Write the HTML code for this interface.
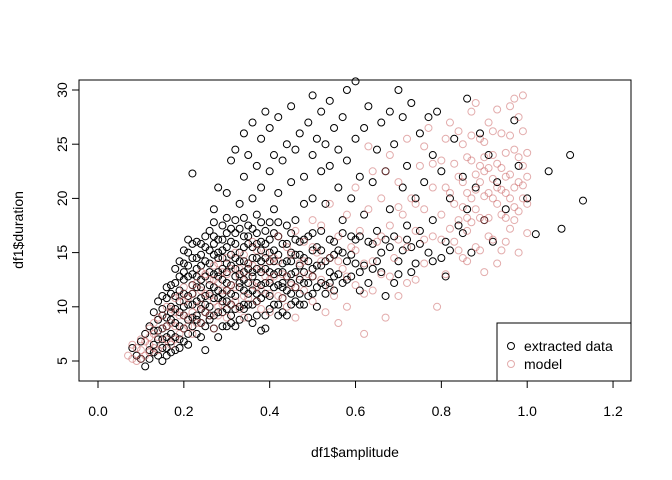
<!DOCTYPE html>
<html><head><meta charset="utf-8"><style>
html,body{margin:0;padding:0;background:#fff;}
svg{display:block;font-family:"Liberation Sans",Arial,sans-serif;}
</style></head><body>
<svg id="chart" width="672" height="480" viewBox="0 0 672 480">
<rect x="79" y="80" width="552" height="301" fill="none" stroke="#000"/>
<g id="xaxis"></g>
<g id="yaxis"></g>
<g id="ptsBlack"></g>
<g id="ptsModel"></g>
<text x="355" y="457" font-size="14" text-anchor="middle">df1$amplitude</text>
<text x="0" y="0" font-size="14" text-anchor="middle" transform="translate(23,230) rotate(-90)">df1$duration</text>
<g>
<rect x="497" y="323" width="134" height="58" fill="#fff" stroke="#000"/>
<circle cx="511" cy="346" r="3.5" fill="none" stroke="#000"/>
<text x="524" y="351" font-size="14">extracted data</text>
<circle cx="511" cy="364" r="3.5" fill="none" stroke="rgba(200,90,90,0.5)"/>
<text x="524" y="369" font-size="14">model</text>
</g>
</svg>
<script>
const xTicks=[0,0.2,0.4,0.6,0.8,1.0,1.2];
const xTickLabels=["0.0","0.2","0.4","0.6","0.8","1.0","1.2"];
const yTicks=[5,10,15,20,25,30];
const yTickLabels=["5","10","15","20","25","30"];
const extractedData=[[0.08,6.2],[0.09,5.5],[0.10,6.8],[0.10,5.2],[0.11,7.5],[0.11,4.5],[0.12,6.0],[0.12,8.2],[0.13,9.5],[0.13,5.8],[0.14,7.0],[0.14,10.5],[0.15,8.0],[0.15,6.2],[0.15,11.0],[0.16,9.0],[0.16,5.5],[0.17,7.5],[0.17,12.0],[0.17,10.0],[0.18,8.5],[0.18,6.0],[0.18,13.5],[0.19,9.5],[0.19,11.5],[0.19,7.0],[0.20,12.5],[0.20,10.0],[0.20,14.0],[0.20,8.0],[0.21,6.5],[0.21,11.0],[0.21,15.0],[0.22,13.0],[0.22,9.0],[0.22,12.0],[0.22,22.3],[0.23,7.5],[0.23,14.5],[0.23,10.5],[0.23,16.0],[0.24,12.5],[0.24,8.5],[0.24,13.8],[0.25,11.0],[0.25,15.5],[0.25,9.5],[0.25,6.0],[0.26,14.0],[0.26,12.0],[0.26,17.0],[0.26,10.0],[0.27,16.5],[0.27,13.0],[0.27,8.0],[0.27,19.0],[0.28,15.0],[0.28,11.5],[0.28,14.5],[0.28,21.0],[0.29,12.5],[0.29,9.5],[0.29,17.5],[0.29,13.5],[0.30,15.5],[0.30,10.5],[0.30,20.5],[0.30,14.0],[0.31,16.0],[0.31,12.0],[0.31,8.5],[0.31,23.5],[0.32,14.5],[0.32,18.0],[0.32,11.0],[0.32,24.5],[0.33,15.0],[0.33,13.0],[0.33,19.5],[0.33,10.0],[0.34,16.5],[0.34,12.5],[0.34,22.0],[0.34,26.0],[0.35,14.0],[0.35,17.5],[0.35,9.0],[0.35,24.0],[0.36,15.5],[0.36,11.5],[0.36,20.0],[0.36,27.0],[0.37,13.5],[0.37,18.5],[0.37,23.0],[0.37,10.5],[0.38,16.0],[0.38,25.5],[0.38,12.0],[0.38,21.0],[0.39,14.5],[0.39,28.0],[0.39,17.0],[0.39,8.0],[0.40,15.0],[0.40,22.5],[0.40,11.0],[0.40,26.5],[0.41,13.0],[0.41,19.0],[0.41,24.0],[0.42,16.5],[0.42,12.0],[0.42,27.5],[0.42,20.5],[0.43,14.0],[0.43,23.5],[0.43,9.5],[0.44,17.5],[0.44,25.0],[0.44,11.5],[0.45,15.0],[0.45,21.5],[0.45,28.5],[0.45,13.0],[0.46,18.0],[0.46,24.5],[0.46,10.5],[0.47,16.0],[0.47,26.0],[0.47,12.5],[0.48,22.0],[0.48,14.5],[0.48,19.5],[0.49,27.0],[0.49,11.0],[0.49,16.5],[0.50,24.0],[0.50,29.5],[0.50,13.5],[0.50,20.0],[0.51,25.5],[0.51,15.5],[0.51,10.0],[0.52,22.5],[0.52,28.0],[0.52,17.0],[0.53,25.0],[0.53,12.0],[0.53,19.5],[0.54,23.0],[0.54,14.5],[0.54,29.0],[0.55,26.5],[0.55,16.0],[0.55,11.5],[0.56,21.0],[0.56,24.5],[0.56,13.0],[0.57,18.0],[0.57,27.5],[0.57,15.0],[0.58,23.5],[0.58,12.5],[0.58,30.0],[0.59,20.0],[0.59,16.5],[0.60,25.5],[0.60,14.0],[0.60,30.8],[0.61,22.0],[0.61,11.5],[0.62,18.5],[0.62,26.5],[0.63,16.0],[0.63,28.5],[0.64,21.5],[0.64,13.5],[0.65,24.5],[0.65,17.0],[0.66,27.0],[0.66,15.0],[0.67,22.5],[0.67,11.0],[0.68,19.0],[0.68,28.0],[0.69,16.5],[0.69,25.0],[0.70,30.0],[0.70,13.0],[0.71,21.0],[0.71,27.5],[0.72,17.5],[0.72,23.0],[0.73,15.5],[0.73,28.8],[0.74,20.0],[0.74,14.0],[0.75,26.0],[0.75,17.0],[0.76,21.5],[0.77,27.5],[0.77,15.0],[0.78,24.0],[0.78,18.0],[0.79,28.0],[0.80,14.5],[0.80,22.5],[0.81,16.0],[0.81,12.8],[0.82,20.0],[0.83,25.5],[0.84,17.5],[0.85,22.0],[0.86,29.2],[0.86,19.0],[0.87,15.0],[0.88,21.0],[0.89,26.0],[0.90,18.0],[0.91,24.0],[0.92,16.0],[0.93,21.5],[0.95,19.0],[0.97,27.2],[0.98,23.0],[1.00,20.0],[1.02,16.7],[1.05,22.5],[1.08,17.2],[1.10,24.0],[1.13,19.8],
[0.13,7.8],[0.14,8.8],[0.15,9.8],[0.16,7.2],[0.16,10.8],[0.17,8.8],[0.18,11.0],[0.19,8.2],[0.20,9.2],[0.20,11.2],[0.21,12.8],[0.21,8.8],[0.22,10.2],[0.23,11.8],[0.23,9.2],[0.24,10.8],[0.24,14.8],[0.25,12.8],[0.26,11.2],[0.26,8.8],[0.27,10.8],[0.27,14.8],[0.28,12.8],[0.28,9.5],[0.29,15.2],[0.29,11.2],[0.30,12.2],[0.30,8.2],[0.31,13.8],[0.31,10.2],[0.32,12.8],[0.32,15.8],[0.33,11.8],[0.34,14.2],[0.34,10.2],[0.35,12.2],[0.35,15.8],[0.36,13.2],[0.37,11.2],[0.37,15.8],[0.38,14.2],[0.39,12.2],[0.40,13.2],[0.41,15.2],[0.42,10.2],[0.43,12.2],[0.44,14.2],[0.45,11.2],[0.46,13.2],[0.47,14.8],[0.48,12.2],[0.50,15.2],[0.52,13.8],[0.54,12.2],[0.56,15.2],[0.58,14.2],[0.60,16.2],[0.62,13.8],[0.64,15.8],[0.66,13.2],[0.68,15.5],[0.70,14.2],[0.72,16.2]];
const extractedCore=[[.12,5.2],[.13,6.5],[.14,5.5],[.14,7.8],[.15,5.0],[.15,7.0],[.15,9.2],[.16,6.2],[.16,8.2],[.16,11.8],[.17,5.8],[.17,6.8],[.17,9.5],[.17,11.2],[.18,7.2],[.18,9.8],[.18,12.2],[.19,6.2],[.19,10.5],[.19,12.8],[.19,14.2],[.2,6.8],[.2,13.2],[.2,15.2],[.21,7.5],[.21,10.2],[.21,13.8],[.21,16.2],[.22,8.2],[.22,11.2],[.22,14.5],[.22,15.8],[.23,8.8],[.23,12.8],[.23,13.5],[.24,7.2],[.24,9.8],[.24,11.8],[.24,15.8],[.25,8.2],[.25,10.2],[.25,14.2],[.25,16.5],[.26,9.2],[.26,13.2],[.26,15.2],[.27,9.2],[.27,11.8],[.27,15.8],[.27,17.8],[.28,7.2],[.28,10.8],[.28,13.2],[.28,16.2],[.29,8.2],[.29,10.5],[.29,14.5],[.29,16.2],[.3,9.8],[.3,11.5],[.3,13.2],[.3,16.8],[.3,18.2],[.31,9.2],[.31,11.2],[.31,14.8],[.31,17.2],[.32,8.2],[.32,9.8],[.32,13.5],[.32,16.8],[.33,8.8],[.33,12.2],[.33,14.2],[.33,17.2],[.34,9.8],[.34,11.5],[.34,13.2],[.34,15.5],[.34,18.2],[.35,10.2],[.35,11.2],[.35,13.5],[.35,16.5],[.36,8.5],[.36,10.2],[.36,12.8],[.36,14.5],[.36,17.2],[.37,9.2],[.37,12.2],[.37,14.5],[.37,16.8],[.38,7.8],[.38,10.8],[.38,13.2],[.38,15.2],[.38,17.8],[.39,9.2],[.39,11.2],[.39,13.5],[.39,15.8],[.4,9.8],[.4,12.2],[.4,14.2],[.4,16.2],[.4,17.8],[.41,10.2],[.41,11.8],[.41,14.2],[.41,16.8],[.42,9.2],[.42,13.2],[.42,14.8],[.42,17.8],[.43,10.8],[.43,11.8],[.43,13.2],[.43,15.8],[.44,9.2],[.44,12.8],[.44,15.8],[.45,10.2],[.45,12.2],[.45,14.2],[.45,16.8],[.46,11.8],[.46,14.8],[.46,16.2],[.47,10.2],[.47,11.2],[.47,13.8],[.48,10.2],[.48,13.2],[.48,16.2],[.49,12.2],[.49,14.2],[.5,11.2],[.5,12.8],[.5,16.8],[.51,11.8],[.51,13.8],[.52,12.2],[.52,15.2],[.53,11.2],[.53,14.2],[.54,13.2],[.54,16.2],[.55,12.8],[.55,14.8],[.57,12.2],[.57,16.8],[.59,12.8],[.59,14.8],[.61,13.2],[.61,16.5],[.63,12.2],[.65,14.2],[.67,16.2],[.69,12.2],[.71,15.2],[.73,13.2],[.75,15.8],[.78,14.2],[.82,15.2],[.85,16.8]];
const modelData=[[0.07,5.5],[0.08,6.5],[0.09,5.0],[0.10,7.0],[0.10,6.0],[0.11,5.5],[0.12,8.0],[0.12,6.5],[0.13,7.5],[0.14,9.0],[0.14,6.0],[0.15,8.0],[0.16,7.0],[0.16,10.0],[0.17,8.5],[0.18,9.5],[0.18,7.0],[0.19,11.0],[0.20,8.0],[0.20,10.5],[0.21,9.0],[0.22,12.0],[0.22,7.5],[0.23,10.0],[0.24,11.5],[0.24,8.5],[0.25,13.0],[0.25,9.5],[0.26,11.0],[0.27,12.5],[0.27,8.0],[0.28,10.0],[0.28,14.0],[0.29,11.5],[0.30,9.0],[0.30,13.0],[0.31,12.0],[0.32,10.5],[0.32,15.0],[0.33,13.5],[0.34,11.0],[0.34,9.0],[0.35,14.0],[0.36,12.0],[0.36,16.0],[0.37,10.5],[0.38,13.5],[0.38,11.5],[0.39,15.0],[0.40,12.5],[0.40,9.5],[0.41,14.5],[0.42,11.0],[0.42,16.5],[0.43,13.0],[0.44,10.0],[0.44,15.5],[0.45,12.0],[0.46,17.0],[0.46,9.0],[0.47,14.0],[0.48,11.5],[0.48,16.0],[0.49,13.0],[0.50,18.0],[0.50,10.5],[0.51,15.0],[0.52,12.5],[0.52,17.5],[0.53,9.5],[0.54,14.5],[0.54,19.5],[0.55,11.0],[0.56,16.5],[0.56,8.5],[0.57,13.5],[0.58,18.5],[0.58,10.0],[0.59,15.5],[0.60,21.0],[0.60,12.0],[0.61,17.0],[0.62,14.0],[0.62,7.5],[0.63,19.0],[0.64,11.5],[0.64,22.5],[0.65,16.0],[0.66,13.0],[0.66,20.0],[0.67,9.0],[0.68,17.5],[0.68,24.0],[0.69,14.5],[0.70,21.5],[0.70,11.0],[0.71,18.5],[0.72,15.5],[0.72,25.5],[0.73,20.0],[0.74,12.5],[0.74,17.0],[0.75,23.0],[0.76,19.0],[0.76,14.0],[0.77,26.5],[0.78,21.0],[0.78,16.5],[0.79,10.0],[0.80,23.5],[0.80,18.5],[0.81,13.0],[0.82,20.5],[0.82,27.0],[0.83,16.0],[0.84,22.0],[0.84,18.0],[0.85,25.0],[0.85,14.5],[0.86,20.5],[0.86,17.0],[0.87,23.5],[0.87,28.0],[0.88,19.0],[0.88,15.5],[0.89,21.5],[0.89,25.5],[0.90,18.0],[0.90,22.5],[0.91,16.5],[0.91,27.0],[0.92,20.0],[0.92,24.0],[0.93,14.0],[0.93,21.0],[0.94,18.5],[0.94,26.0],[0.95,22.0],[0.95,16.0],[0.96,20.0],[0.96,28.5],[0.97,24.5],[0.97,18.0],[0.98,21.5],[0.98,15.0],[0.99,23.0],[0.99,29.5],[1.00,19.5],[1.00,22.0],[0.93,19.5],[0.91,20.5],[0.89,23.0],[0.95,20.5],[0.97,21.0],[0.99,20.0],[0.87,20.0],[0.85,21.5],[0.83,19.5],[0.81,21.0]];
const modelExtra=[[.08,5.2],[.09,6.2],[.1,5.2],[.11,6.8],[.12,5.8],[.12,7.2],[.13,6.2],[.13,8.5],[.14,7.2],[.15,6.5],[.15,9.2],[.16,8.2],[.17,6.5],[.17,9.8],[.18,8.2],[.18,10.8],[.19,7.5],[.19,9.2],[.2,9.2],[.2,11.8],[.21,8.2],[.21,10.8],[.22,9.5],[.22,11.2],[.23,8.5],[.23,12.2],[.24,10.2],[.24,13.2],[.25,11.2],[.26,9.2],[.26,12.5],[.27,10.5],[.27,13.8],[.28,9.2],[.28,12.2],[.29,10.2],[.29,13.2],[.3,11.5],[.3,14.5],[.31,10.2],[.31,13.5],[.32,11.8],[.33,9.8],[.33,12.8],[.34,14.8],[.35,10.8],[.35,12.8],[.36,13.8],[.37,11.8],[.37,15.2],[.38,9.8],[.39,12.8],[.4,14.2],[.4,11.2],[.41,12.8],[.42,14.2],[.43,10.8],[.44,12.8],[.45,14.8],[.46,11.8],[.47,12.8],[.48,14.2],[.5,12.8],[.5,15.5],[.52,14.2],[.54,11.8],[.56,14.2],[.58,12.8],[.6,15.2],[.62,11.2],[.64,14.2],[.66,16.5],[.68,12.8],[.7,16.2],[.72,12.2],[.74,19.5],[.76,16.2],
[.8,16.2],[.81,25.5],[.82,17.2],[.83,23.2],[.84,26.2],[.84,15.2],[.85,19.2],[.86,23.8],[.86,14.2],[.87,17.8],[.87,25.8],[.88,22.2],[.88,28.8],[.89,18.2],[.89,15.2],[.9,20.2],[.9,25.2],[.9,13.2],[.91,22.8],[.91,18.2],[.92,26.2],[.92,16.2],[.93,23.2],[.93,28.2],[.94,20.8],[.94,15.2],[.95,24.2],[.95,18.2],[.96,22.2],[.96,17.2],[.96,25.8],[.97,19.2],[.97,29.2],[.98,23.8],[.98,18.8],[.99,21.2],[.99,26.2],[1,24.2],[1,16.8],[.94,22.8],[.92,21.8],[.9,23.8],[.88,20.8],[.86,18.2],[.98,27.5],[.78,23.2],[.76,24.8],[.7,19.2],[.67,22.5],[.63,24.8]];

const NS="http://www.w3.org/2000/svg";
function sx(v){return 98+v*429.2;}
function sy(v){return 361-(v-5)*10.84;}
function mk(tag,attrs,parent){const e=document.createElementNS(NS,tag);for(const k in attrs)e.setAttribute(k,attrs[k]);parent.appendChild(e);return e;}
const xa=document.getElementById('xaxis');
mk('line',{x1:sx(xTicks[0]),x2:sx(xTicks[xTicks.length-1]),y1:381,y2:381,stroke:'#000'},xa);
xTicks.forEach((t,i)=>{
  const l=mk('line',{x1:sx(t),x2:sx(t),y1:381,y2:388,stroke:'#000'},xa);
  
  
  const tx=mk('text',{x:sx(t),y:416,'font-size':14,'text-anchor':'middle'},xa);
  tx.textContent=xTickLabels[i];
  
  
});
const ya=document.getElementById('yaxis');
yTicks.forEach((t,i)=>{
  const l=mk('line',{x1:72,x2:79,y1:sy(t),y2:sy(t),stroke:'#000'},ya);
  
  
  const tx=mk('text',{x:0,y:0,'font-size':14,'text-anchor':'middle',transform:'translate(67,'+sy(t)+') rotate(-90)'},ya);
  tx.textContent=yTickLabels[i];
  
  
});
const gb=document.getElementById('ptsBlack');
extractedData.concat(extractedCore).forEach(p=>{
  const c=mk('circle',{cx:sx(p[0]),cy:sy(p[1]),r:3.5,fill:'none',stroke:'#000','stroke-width':1},gb);
  
  
});
const gm=document.getElementById('ptsModel');
modelData.concat(modelExtra).forEach(p=>{
  const c=mk('circle',{cx:sx(p[0]),cy:sy(p[1]),r:3.5,fill:'none',stroke:'rgba(200,90,90,0.5)','stroke-width':1},gm);
  
  
});
</script>
</body></html>
